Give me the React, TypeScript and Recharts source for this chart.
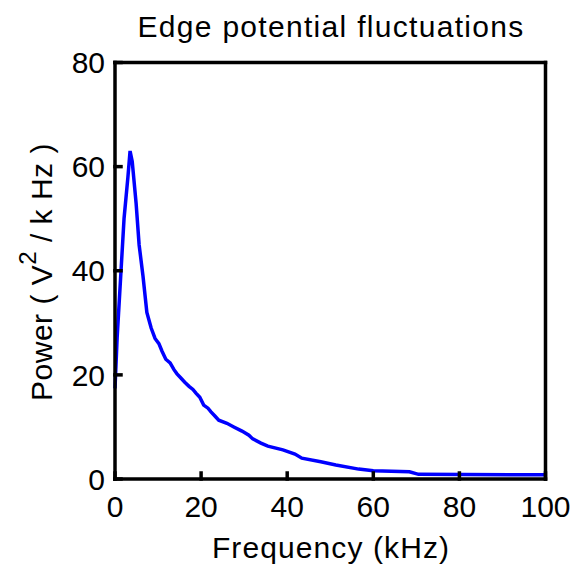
import { LineChart, Line, XAxis, YAxis } from 'recharts';

// Spectrum of the edge potential, frequency in kHz and power in V^2/kHz
const frequency = [
  0, 0.5, 1.4, 2.1, 3.0, 3.5, 4.0, 4.9, 5.6, 6.5, 7.4, 8.4, 9.3, 10.2, 10.9,
  11.8, 12.8, 13.7, 14.4, 15.3, 16.2, 17.2, 18.1, 18.8, 19.7, 20.6, 21.6, 22.3,
  23.2, 24.1, 26.0, 27.6, 29.5, 31.1, 32.0, 33.9, 35.5, 39.0, 41.8, 43.4, 47.8,
  51.3, 56.6, 60.0, 68.4, 70.5, 100,
];
const power = [
  17.4, 27.2, 40, 50, 58, 63, 61, 53, 45, 39, 32, 29, 27, 26, 24.6,
  23, 22.3, 21, 20.2, 19.4, 18.6, 17.8, 17.2, 16.5, 15.7, 14.2, 13.6, 12.9,
  12.1, 11.3, 10.7, 10.0, 9.2, 8.4, 7.7, 6.9, 6.3, 5.6, 4.8, 4.0, 3.3,
  2.7, 1.9, 1.6, 1.4, 0.9, 0.8,
];
const xTicks = [0, 20, 40, 60, 80, 100];
const yTicks = [0, 20, 40, 60, 80];

const data = frequency.map((f, i) => ({ f, p: power[i] }));

const FONT = '"Liberation Sans", Arial, Helvetica, sans-serif';
const frame = { stroke: '#000', strokeWidth: 3.5, strokeLinecap: 'square' as const };
const tickFont = { fill: '#000', fontSize: 30, fontFamily: FONT };

export default function App() {
  return (
    <div style={{ width: 573, height: 566, background: '#fff' }}>
      <style>{'body{margin:0}'}</style>
      <LineChart
        width={573}
        height={566}
        data={data}
        margin={{ top: 61.5, right: 26.5, bottom: 0, left: 0 }}
      >
        <XAxis
          dataKey="f"
          type="number"
          domain={[0, 100]}
          ticks={xTicks}
          height={87}
          tickSize={-6}
          tickMargin={23}
          axisLine={frame}
          tickLine={frame}
          tick={tickFont}
          label={{
            content: () => (
              <text x={331} y={558} textAnchor="middle" fontSize={30} fontFamily={FONT} letterSpacing={1.1} fill="#000">
                Frequency (kHz)
              </text>
            ),
          }}
        />
        {/* top and right axes close the box */}
        <XAxis
          xAxisId="top"
          orientation="top"
          dataKey="f"
          type="number"
          domain={[0, 100]}
          ticks={xTicks}
          height={1}
          tickSize={-6}
          axisLine={frame}
          tickLine={frame}
          tick={false}
          label={{
            content: () => (
              <text x={331} y={36.5} textAnchor="middle" fontSize={30} fontFamily={FONT} letterSpacing={1.3} fill="#000">
                Edge potential fluctuations
              </text>
            ),
          }}
        />
        <YAxis
          type="number"
          domain={[0, 80]}
          ticks={yTicks}
          width={115}
          tickSize={-6}
          tickMargin={16}
          axisLine={frame}
          tickLine={frame}
          tick={tickFont}
          label={{
            content: () => (
              <text
                x={52}
                y={272}
                transform="rotate(-90 52 272)"
                textAnchor="middle"
                fontSize={30}
                fontFamily={FONT}
                letterSpacing={0.5}
                fill="#000"
              >
                Power ( V
                <tspan dy={-16} fontSize={24}>2</tspan>
                <tspan dy={16}> / k Hz )</tspan>
              </text>
            ),
          }}
        />
        <YAxis
          yAxisId="right"
          orientation="right"
          type="number"
          domain={[0, 80]}
          ticks={yTicks}
          width={1}
          tickSize={-6}
          axisLine={frame}
          tickLine={frame}
          tick={false}
        />
        <Line
          xAxisId="top"
          yAxisId="right"
          dataKey="p"
          stroke="none"
          dot={false}
          legendType="none"
          isAnimationActive={false}
        />
        <Line
          dataKey="p"
          type="linear"
          stroke="#0000ff"
          strokeWidth={3.5}
          dot={false}
          isAnimationActive={false}
        />
      </LineChart>
    </div>
  );
}
